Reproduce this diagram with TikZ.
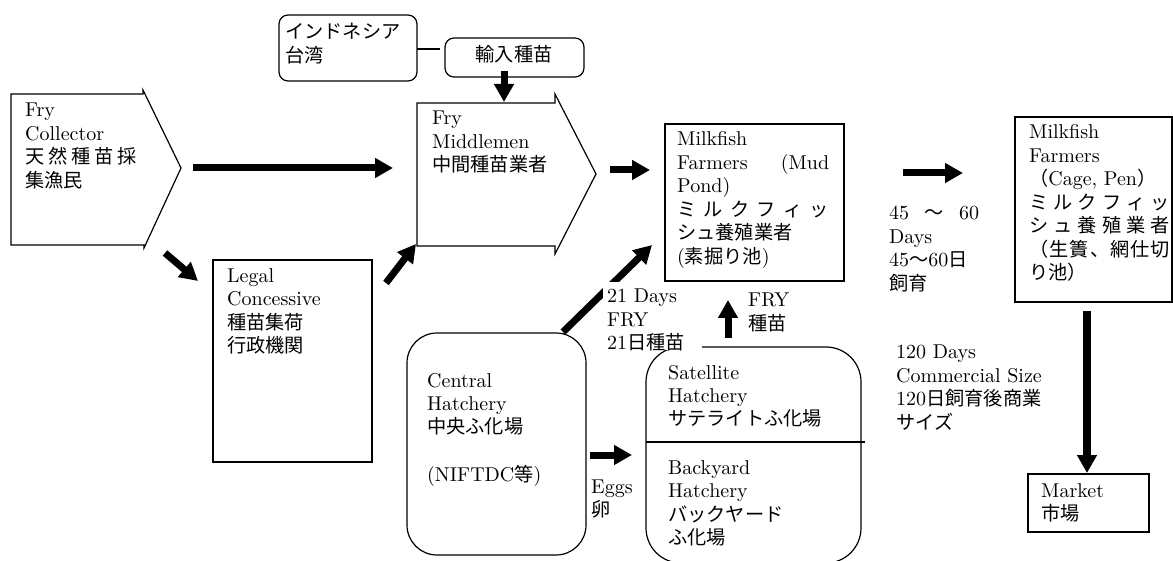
\documentclass[tikz,border=0pt]{standalone}
\usepackage{fontspec}
\setmainfont{lmroman10-regular.otf}
\newfontfamily\jp[Scale=0.96]{Noto Sans CJK JP}
\usetikzlibrary{arrows.meta}
\newcommand{\jj}[2]{\makebox[#1][l]{#2}}
\begin{document}
\begin{tikzpicture}[x=1pt,y=-1pt]
\tikzset{
  box/.style={draw, line width=1.2pt},
  conn/.style={line width=1.2pt},
  arr/.style={line width=7pt, -{Triangle[length=18pt,width=19pt]}},
  txt/.style={anchor=base west, inner sep=0pt, align=left, text width=200pt,
    font=\fontsize{20}{23.5}\selectfont},
}
\useasboundingbox (0,0) rectangle (1173,561);
\clip (0,0) rectangle (1173,561);

% Fry collector
\draw[box] (11,94) -- (143,94) -- (143,90) -- (181,168) -- (144,248) -- (144,245) -- (11,245) -- cycle;
\node[txt] (collector) at (25,117) {Fry\\Collector\\\jj{112pt}{\jp 天\hfill 然\hfill 種\hfill 苗\hfill 採}\\{\jp 集漁民}};

% Fry middlemen
\draw[box] (417,103) -- (555,103) -- (555,94) -- (596,174) -- (555,254) -- (555,246) -- (417,246) -- cycle;
\node[txt] (middle) at (432,125) {Fry\\Middlemen\\{\jp 中間種苗業者}};

% Import
\draw[box, rounded corners=9pt] (279,15) rectangle (417,81);
\node[txt] (indo) at (285,39) {{\jp インドネシア}\\{\jp 台湾}};
\draw[box, rounded corners=9pt] (445,38) rectangle (584,77);
\node[anchor=base, inner sep=0pt, font=\fontsize{20}{23.5}\selectfont] (import) at (514,62) {\jp 輸入種苗};
\coordinate (c1) at (417,49);
\coordinate (c2) at (440,49);
\draw[conn] (c1) -- (c2);

% Legal concessive
\draw[box] (213,260) rectangle (372,462);
\node[txt] (legal) at (227,282.5) {Legal\\Concessive\\{\jp 種苗集荷}\\{\jp 行政機関}};

% Mud pond farmers
\draw[box] (665,124) rectangle (844,281);
\node[txt] (mud) at (677,146) {Milkfish\\\jj{152pt}{Farmers\hfill(Mud}\\Pond)\\\jj{152pt}{\jp ミ\hfill ル\hfill ク\hfill フ\hfill ィ\hfill ッ}\\{\jp シュ養殖業者}\\({\jp 素掘り池})};

% Cage farmers
\draw[box] (1015,117) rectangle (1172,302);
\node[txt] (cage) at (1029,139) {Milkfish\\Farmers\\{\jp （}Cage, Pen{\jp ）}\\\jj{141pt}{\jp ミ\hfill ル\hfill ク\hfill フ\hfill ィ\hfill ッ}\\\jj{141pt}{\jp シ\hfill ュ\hfill 養\hfill 殖\hfill 業\hfill 者}\\\jj{141pt}{\jp （\hfill 生\hfill 簀\hfill 、\hfill 網\hfill 仕\hfill 切}\\{\jp り池）}};

% Market
\draw[box] (1028,474) rectangle (1149,532);
\node[txt] (market) at (1041,497) {Market\\{\jp 市場}};

% Central hatchery
\draw[box, rounded corners=30pt] (407,333) rectangle (586,555);
\node[txt] (central) at (427,387) {Central\\Hatchery\\{\jp 中央ふ化場}\\[23.5pt](NIFTDC{\jp 等})};

% Satellite / backyard
\draw[box, rounded corners=35pt] (646,347) rectangle (861,563);
\coordinate (d1) at (646,442);
\coordinate (d2) at (865,442);
\draw[conn] (d1) -- (d2);
\node[txt] (sat) at (668,379) {Satellite\\Hatchery\\{\jp サテライトふ化場}};
\node[txt] (back) at (668,474) {Backyard\\Hatchery\\{\jp バックヤード}\\{\jp ふ化場}};

% Arrows
\coordinate (a1s) at (193,168); \coordinate (a1e) at (393,168);
\coordinate (a2s) at (165,253); \coordinate (a2e) at (198,281);
\coordinate (a3s) at (386,283); \coordinate (a3e) at (416,244);
\coordinate (a4s) at (504,71);  \coordinate (a4e) at (504,102);
\coordinate (a5s) at (610,170); \coordinate (a5e) at (650,170);
\coordinate (a6s) at (563,332); \coordinate (a6e) at (652,245);
\coordinate (a7s) at (728,338); \coordinate (a7e) at (728,300);
\coordinate (a8s) at (590,455); \coordinate (a8e) at (632,455);
\coordinate (a9s) at (903,173); \coordinate (a9e) at (963,173);
\coordinate (a10s) at (1087,311); \coordinate (a10e) at (1087,473);
\draw[arr] (a1s) -- (a1e);
\draw[arr] (a2s) -- (a2e);
\draw[arr] (a3s) -- (a3e);
\draw[arr] (a4s) -- (a4e);
\draw[arr] (a5s) -- (a5e);
\draw[arr] (a6s) -- (a6e);
\draw[arr] (a7s) -- (a7e);
\draw[arr] (a8s) -- (a8e);
\draw[arr] (a9s) -- (a9e);
\draw[arr, line width=8pt] (a10s) -- (a10e);

% Labels
\node[txt] (days45) at (889,220) {\jj{90pt}{45\hfill{\jp ～}\hfill 60}\\Days\\45{\jp ～}60{\jp 日}\\{\jp 飼育}};
\node[txt] (days120) at (896,359) {120 Days\\Commercial Size\\120{\jp 日飼育後商業}\\{\jp サイズ}};
\node[txt] (eggs) at (591,493) {Eggs\\{\jp 卵}};
\node[txt] (fry) at (748,307) {FRY\\{\jp 種苗}};
\fill[white] (603,282) rectangle (702,350);
\node[txt] (days21) at (607,303) {21 Days\\FRY\\21{\jp 日種苗}};
\end{tikzpicture}
\end{document}
